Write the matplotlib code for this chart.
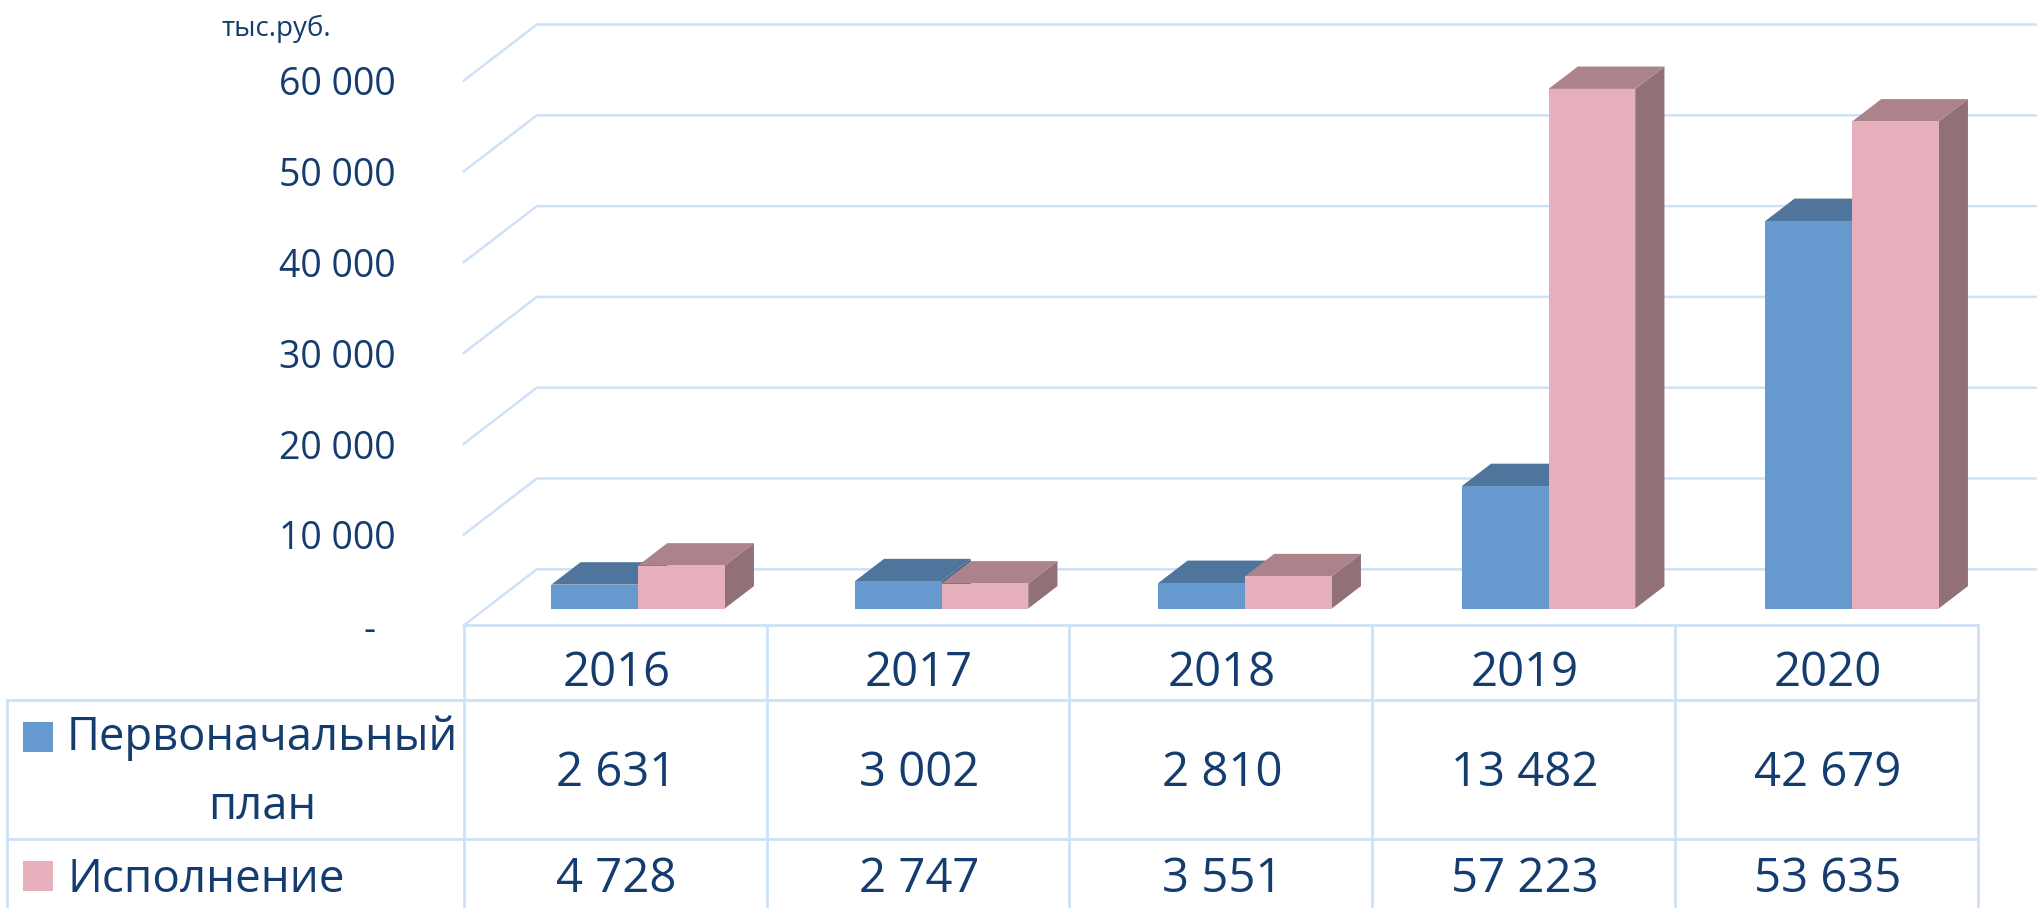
import matplotlib
matplotlib.use('Agg')
import matplotlib.pyplot as plt
from matplotlib.patches import Polygon, Rectangle

plt.rcParams['font.family'] = ['Open Sans', 'DejaVu Sans']

years = ['2016', '2017', '2018', '2019', '2020']
plan = [2631, 3002, 2810, 13482, 42679]
fact = [4728, 2747, 3551, 57223, 53635]
ticks = [0, 10000, 20000, 30000, 40000, 50000, 60000]
tick_labels = ['-', '10 000', '20 000', '30 000', '40 000', '50 000', '60 000']
unit = 'тыс.руб.'

W, H = 2037, 908
TEXT = '#143C6E'
GRID = '#CFE1F7'

# pixel geometry of the fake 3d box
X0 = 615.25      # px of first category, front plane
STEP = 302.8     # px per category
Y0 = 625.3       # px of value 0, front plane
PX_PER_VAL = 0.00908
DEPTH_X = 73 / STEP
DEPTH_Y = 56 / PX_PER_VAL
BAR_W = 86.7 / STEP
BAR_OFF = 0.9 / STEP
BAR_STEP = 303.5 / STEP  # bars are spaced a little wider than the table columns
D1, D2 = 0.30, 0.70  # bars sit in this part of the depth


def shift(x, v, d):
    return (x + d * DEPTH_X, v + d * DEPTH_Y)


def bar3d(ax, x, v, front, top, side):
    # x is the left edge, v the height
    l, r = x, x + BAR_W
    ax.add_patch(Polygon([shift(r, 0, D1), shift(r, 0, D2), shift(r, v, D2), shift(r, v, D1)],
                         fc=side, ec='none', zorder=3))
    ax.add_patch(Polygon([shift(l, v, D1), shift(r, v, D1), shift(r, v, D2), shift(l, v, D2)],
                         fc=top, ec='none', zorder=3))
    ax.add_patch(Polygon([shift(l, 0, D1), shift(r, 0, D1), shift(r, v, D1), shift(l, v, D1)],
                         fc=front, ec='none', zorder=3))


fig = plt.figure(figsize=(W / 100, H / 100), dpi=100, facecolor='white')

# chart axes: x in categories, y in values, filling the whole figure
ax = fig.add_axes([0, 0, 1, 1])
ax.set_xlim(-X0 / STEP, (W - X0) / STEP)
ax.set_ylim((Y0 - H) / PX_PER_VAL, Y0 / PX_PER_VAL)
ax.axis('off')

for t in ticks:
    ax.plot([-0.5, -0.5 + DEPTH_X, 5], [t, t + DEPTH_Y, t + DEPTH_Y], color=GRID, lw=1.8, zorder=1)

for i in range(len(years)):
    x = i * BAR_STEP + BAR_OFF
    bar3d(ax, x - BAR_W, plan[i], '#6699CD', '#4F759C', '#45678C')
    bar3d(ax, x, fact[i], '#E5AFBB', '#AD838B', '#917078')

for t, lab in zip(ticks, tick_labels):
    if t == 0:
        ax.text(-0.81, t - 660, lab, fontsize=27, color=TEXT, ha='center', va='center')
    else:
        ax.text(-0.725, t - 550, lab, fontsize=27, color=TEXT, ha='right', va='center')

# table below the chart, in pixels
tb = fig.add_axes([0, 0, 1, 1], facecolor='none')
tb.set_xlim(0, W)
tb.set_ylim(H, 0)
tb.axis('off')

col_x = [X0 + (i - 0.5) * STEP for i in range(len(years) + 1)]
right = col_x[-1]
tb.plot([col_x[0], right], [625, 625], color=GRID, lw=2)
for y in [700, 839]:
    tb.plot([7, right], [y, y], color=GRID, lw=2)
tb.plot([7, 7], [700, H], color=GRID, lw=2)
for x in col_x:
    tb.plot([x, x], [625, H], color=GRID, lw=2)

for i in range(len(years)):
    cx = X0 + i * STEP
    tb.text(cx + 1, 673, years[i], fontsize=34, color=TEXT, ha='center', va='center')
    tb.text(cx + 1, 773, f'{plan[i]:,}'.replace(',', ' '), fontsize=34, color=TEXT, ha='center', va='center')
    tb.text(cx + 1, 879, f'{fact[i]:,}'.replace(',', ' '), fontsize=34, color=TEXT, ha='center', va='center')

tb.add_patch(Rectangle((23, 722), 30, 30, fc='#6699CD', ec='none'))
tb.add_patch(Rectangle((23, 861), 30, 30, fc='#E5AFBB', ec='none'))
tb.text(67, 738, 'Первоначальный', fontsize=32.7, color=TEXT, ha='left', va='center')
tb.text(262, 807, 'план', fontsize=32.7, color=TEXT, ha='center', va='center')
tb.text(67, 880, 'Исполнение', fontsize=33, color=TEXT, ha='left', va='center')

tb.text(222, 29, unit, fontsize=20, color=TEXT, ha='left', va='center')

fig.savefig('out.png', dpi=100)
